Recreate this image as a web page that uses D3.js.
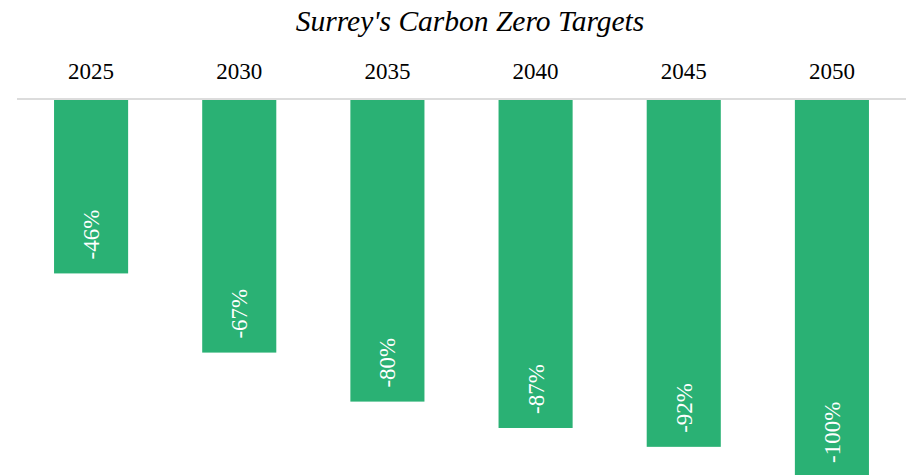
<!DOCTYPE html>
<html><head><meta charset="utf-8">
<script src="https://cdn.jsdelivr.net/npm/d3@7"></script>
<style>body{margin:0;background:#fff;}svg{display:block;}</style>
</head><body>
<svg id="c" width="915" height="475"></svg>
<script>
const categories = ["2025","2030","2035","2040","2045","2050"];
const values = [-46,-67,-80,-87,-92,-100];
const labels = ["-46%","-67%","-80%","-87%","-92%","-100%"];
const title = "Surrey's Carbon Zero Targets";

const svg = d3.select("#c");
const font = "'Liberation Serif','Times New Roman',serif";
const x = d3.scaleBand().domain(categories).range([17, 906]).paddingInner(0.5).paddingOuter(0.25);
const y = d3.scaleLinear().domain([0, -100]).range([100, 477]);

svg.append("text").attr("x", 470).attr("y", 31).attr("text-anchor","middle")
  .attr("font-family", font).attr("font-style","italic").attr("font-size", 29.5).attr("fill","#000").text(title);

svg.append("line").attr("x1",17).attr("x2",906).attr("y1",99).attr("y2",99)
  .attr("stroke","#dcdcdc").attr("stroke-width",2);

const ax = svg.append("g").attr("transform","translate(0,79)")
  .call(d3.axisTop(x).tickSize(0).tickPadding(0));
ax.select(".domain").remove();
ax.selectAll("text").attr("font-family", font).attr("font-size", 23).attr("fill","#000").attr("dy", 0);

svg.selectAll("rect.bar").data(values).join("rect").attr("class","bar")
  .attr("x",(d,i)=>x(categories[i])).attr("width", x.bandwidth())
  .attr("y", y(0)).attr("height", d=>y(d)-y(0)).attr("fill","#2ab174");

svg.selectAll("text.val").data(values).join("text").attr("class","val")
  .attr("transform",(d,i)=>`translate(${x(categories[i])+x.bandwidth()/2+8},${y(d)-14}) rotate(-90)`)
  .attr("text-anchor","start").attr("font-family", font).attr("font-size", 23).attr("fill","#fff")
  .text((d,i)=>labels[i]);
</script>
</body></html>
